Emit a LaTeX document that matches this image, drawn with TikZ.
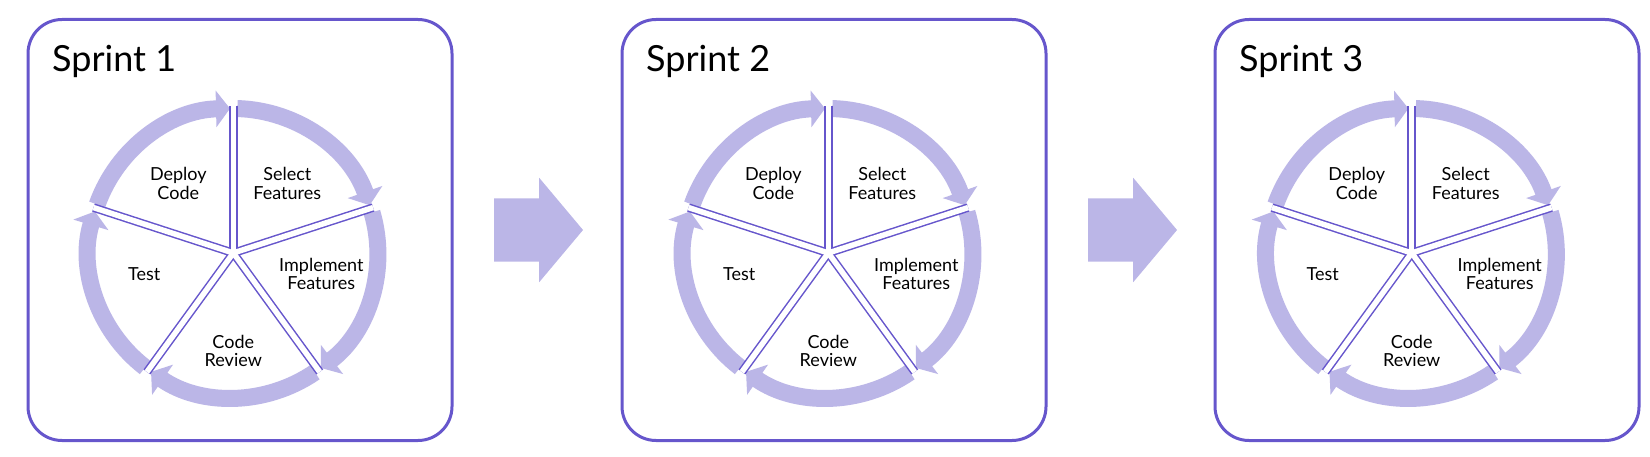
\documentclass[tikz,border=0pt]{standalone}
\usepackage{fontspec}
\setmainfont{Lato}
\usetikzlibrary{arrows.meta,calc,positioning,shapes.arrows}
\definecolor{edgeblue}{RGB}{102,86,204}
\definecolor{lilac}{RGB}{187,182,231}

\tikzset{
  sprintbox/.style={draw=edgeblue,line width=3pt,rounded corners=34pt,fill=white,
    minimum width=424pt,minimum height=421pt,inner sep=0pt,outer sep=0pt},
  bigarrow/.style={single arrow,fill=lilac,minimum height=89pt,inner xsep=0pt,inner ysep=31.5pt,
    single arrow head extend=20.5pt,single arrow tip angle=100,outer sep=0pt},
  phase/.style={lilac,line width=17pt,-{Triangle[width=36pt,length=14pt]}},
  sprinttitle/.style={anchor=base west,inner sep=0pt,font=\fontsize{36}{36}\selectfont},
  stage/.style={align=center,inner sep=0pt,font=\fontsize{18}{18.5}\selectfont},
}

\begin{document}
\begin{tikzpicture}[x=1pt,y=1pt]
\useasboundingbox (0,0) rectangle (1650,-457);
\node[sprintbox] (s1) at (240,-230) {};
\node[bigarrow,right=42pt of s1] (a1) {};
\node[sprintbox,right=39pt of a1] (s2) {};
\node[bigarrow,right=42pt of s2] (a2) {};
\node[sprintbox,right=38pt of a2] (s3) {};

\foreach \s/\dx in {1/-6.7,2/-5.7,3/-15.3}{
  \coordinate (c\s) at ($(s\s.center)+(\dx,-23)$);
  \node[sprinttitle] (t\s) at ($(s\s.north west)+(24,-52.5)$) {Sprint \s};
  % cycle arrows
  \foreach \a in {90,18,-54,-126,-198}
    \draw[phase] (c\s) ++(\a-1.6:144.5) arc[start angle=\a-1.6,end angle=\a-70.7,radius=144.5];
  % split lines
  \foreach \a in {90,18,-54,-126,162}
    \draw[edgeblue,line width=8.5pt] (c\s) -- ++(\a:147);
  \foreach \a in {90,18,-54,-126,162}
    \draw[white,line width=5.5pt] (c\s) -- ++(\a:147);
  \node[stage] (sel\s) at ($(c\s)+(54,69.5)$) {Select\\Features};
  \node[stage] (imp\s) at ($(c\s)+(88,-21)$) {Implement\\Features};
  \node[stage] (rev\s) at ($(c\s)+(0,-98)$) {Code\\Review};
  \node[stage] (tst\s) at ($(c\s)+(-89,-21)$) {Test};
  \node[stage] (dep\s) at ($(c\s)+(-55,69.5)$) {Deploy\\Code};
}
\end{tikzpicture}
\end{document}
